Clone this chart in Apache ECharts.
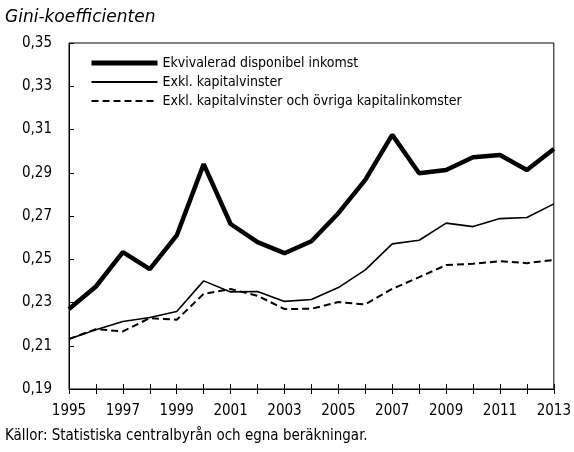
<!DOCTYPE html>
<html>
<head>
<meta charset="utf-8">
<script src="https://cdn.jsdelivr.net/npm/echarts@6/dist/echarts.min.js"></script>
<style>
	html, body { margin: 0; padding: 0; background: #fff; }
	#chart { width: 574px; height: 452px; }
</style>
</head>
<body>
<div id="chart"></div>
<script>
	const years = []
	for (let y = 1995; y <= 2013; y++) years.push(String(y))

	const ekvivalerad = [0.227, 0.2374, 0.2533, 0.2454, 0.261, 0.294, 0.2663, 0.2579, 0.2528, 0.2583,
		0.2713, 0.2867, 0.3075, 0.2898, 0.2913, 0.2972, 0.2982, 0.2913, 0.301]
	const exklKapital = [0.2131, 0.2174, 0.2212, 0.2231, 0.2258, 0.240, 0.2349, 0.2351, 0.2305, 0.2314,
		0.2369, 0.2451, 0.2571, 0.2588, 0.2667, 0.2651, 0.2688, 0.2693, 0.2756]
	const exklOvriga = [0.2131, 0.2177, 0.2166, 0.2228, 0.222, 0.234, 0.2362, 0.2331, 0.227, 0.2271,
		0.2302, 0.2291, 0.2363, 0.2417, 0.2473, 0.2479, 0.2491, 0.2482, 0.2497]

	const names = [
		"Ekvivalerad disponibel inkomst",
		"Exkl. kapitalvinster",
		"Exkl. kapitalvinster och övriga kapitalinkomster"
	]

	const narrow = "'Liberation Sans Narrow', 'DejaVu Sans Condensed', sans-serif"

	const chart = echarts.init(document.getElementById("chart"))
	chart.setOption({
		animation: false,
		title: [
			{
				text: "Gini-koefficienten",
				left: 5,
				top: 9,
				padding: 0,
				textStyle: { fontFamily: "'DejaVu Sans', sans-serif", fontStyle: "italic", fontWeight: "normal", fontSize: 17, color: "#000" }
			},
			{
				text: "Källor: Statistiska centralbyrån och egna beräkningar.",
				left: 5,
				top: 429,
				padding: 0,
				textStyle: { fontFamily: narrow, fontWeight: "normal", fontSize: 15, color: "#000" }
			}
		],
		legend: {
			orient: "vertical",
			left: 89,
			top: 56,
			padding: 0,
			itemWidth: 66,
			itemHeight: 14,
			itemGap: 5,
			itemStyle: { opacity: 0 },
			textStyle: { fontFamily: narrow, fontSize: 14, color: "#000" },
			data: [
				{ name: names[0], lineStyle: { width: 5, color: "#000" } },
				{ name: names[1], lineStyle: { width: 2, color: "#000" } },
				{ name: names[2], lineStyle: { width: 2, color: "#000", type: [7, 4] } }
			]
		},
		grid: {
			left: 69,
			right: 17,
			top: 43,
			bottom: 63,
			show: true,
			borderColor: "#000",
			borderWidth: 1
		},
		xAxis: [
			{
				type: "category",
				data: years,
				boundaryGap: false,
				axisLine: { lineStyle: { color: "#000", width: 1 } },
				axisTick: { inside: true, length: 5, interval: 0, lineStyle: { color: "#000" } },
				axisLabel: { interval: 1, margin: 15, fontFamily: narrow, fontSize: 15, color: "#000" },
				splitLine: { show: false }
			},
			{
				type: "category",
				data: years,
				boundaryGap: false,
				position: "bottom",
				axisLine: { show: false },
				axisTick: { inside: false, length: 5, interval: 0, lineStyle: { color: "#000" } },
				axisLabel: { show: false },
				splitLine: { show: false }
			}
		],
		yAxis: {
			type: "value",
			min: 0.19,
			max: 0.35,
			interval: 0.02,
			axisLine: { show: true, lineStyle: { color: "#000" } },
			axisTick: { show: true, inside: true, length: 5, lineStyle: { color: "#000" } },
			axisLabel: {
				margin: 17,
				fontFamily: narrow,
				fontSize: 15,
				color: "#000",
				formatter: v => v.toFixed(2).replace(".", ",")
			},
			splitLine: { show: false }
		},
		series: [
			{
				name: names[0],
				type: "line",
				data: ekvivalerad,
				symbol: "none",
				lineStyle: { color: "#000", width: 4.5 },
				itemStyle: { color: "#000" }
			},
			{
				name: names[1],
				type: "line",
				data: exklKapital,
				symbol: "none",
				lineStyle: { color: "#000", width: 1.6 },
				itemStyle: { color: "#000" }
			},
			{
				name: names[2],
				type: "line",
				data: exklOvriga,
				symbol: "none",
				lineStyle: { color: "#000", width: 2, type: [7, 4] },
				itemStyle: { color: "#000" }
			}
		]
	})
</script>
</body>
</html>
